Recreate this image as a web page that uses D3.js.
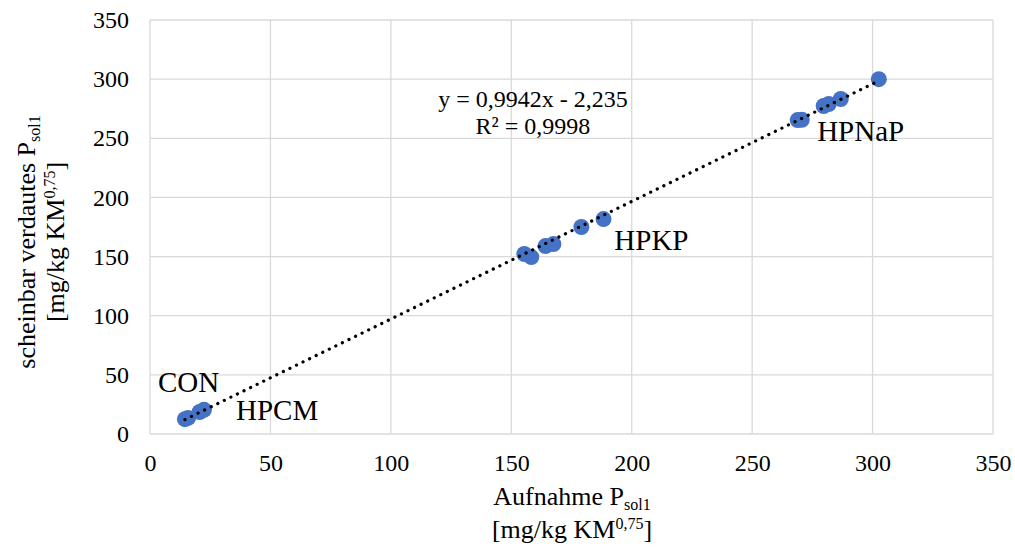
<!DOCTYPE html>
<html>
<head>
<meta charset="utf-8">
<script src="https://cdn.jsdelivr.net/npm/d3@7"></script>
<style>
  body { margin: 0; background: #fff; }
  text { font-family: "Liberation Serif", "Times New Roman", serif; fill: #000; }
</style>
</head>
<body>
<div id="chart"></div>
<script>
// data
const groups = ['CON', 'HPCM', 'HPKP', 'HPNaP'];
const intakeX = [14.5, 15.8, 20.6, 22.4, 155.4, 158.3, 164.2, 167.5, 179.1, 188.3, 268.9, 270.6, 279.7, 281.8, 286.8, 302.6];
const digestedY = [12.5, 13.6, 18.6, 20.4, 152.2, 149.6, 158.9, 160.6, 175.0, 181.7, 265.4, 265.6, 277.3, 279.0, 283.2, 300.0];
const groupOf = ['CON', 'CON', 'HPCM', 'HPCM', 'HPKP', 'HPKP', 'HPKP', 'HPKP', 'HPKP', 'HPKP', 'HPNaP', 'HPNaP', 'HPNaP', 'HPNaP', 'HPNaP', 'HPNaP'];
const tickValues = [0, 50, 100, 150, 200, 250, 300, 350];
const slope = 0.9942, intercept = -2.235;
// label anchor points in data units
const labelX = [3.3, 35.7, 192.8, 277];
const labelY = [35.5, 11.8, 155.5, 247.6];

const width = 1015, height = 547;
const margin = { top: 20, right: 22, bottom: 113, left: 150 };
const w = width - margin.left - margin.right;
const h = height - margin.top - margin.bottom;

const svg = d3.select('#chart').append('svg')
    .attr('width', width)
    .attr('height', height);
const g = svg.append('g')
    .attr('transform', 'translate(' + margin.left + ',' + margin.top + ')');

const x = d3.scaleLinear().domain([0, 350]).range([0, w]);
const y = d3.scaleLinear().domain([0, 350]).range([h, 0]);

// gridlines
g.append('g').selectAll('line.v')
    .data(tickValues)
    .enter().append('line')
    .attr('x1', d => x(d)).attr('x2', d => x(d))
    .attr('y1', 0).attr('y2', h)
    .attr('stroke', '#d9d9d9').attr('stroke-width', 1.3);
g.append('g').selectAll('line.h')
    .data(tickValues)
    .enter().append('line')
    .attr('x1', 0).attr('x2', w)
    .attr('y1', d => y(d)).attr('y2', d => y(d))
    .attr('stroke', '#d9d9d9').attr('stroke-width', 1.3);

// axes (labels only)
const xAxis = g.append('g')
    .attr('transform', 'translate(0,' + h + ')')
    .call(d3.axisBottom(x).tickValues(tickValues).tickSize(0).tickPadding(20));
const yAxis = g.append('g')
    .call(d3.axisLeft(y).tickValues(tickValues).tickSize(0).tickPadding(21));
[xAxis, yAxis].forEach(a => {
    a.select('.domain').remove();
    a.selectAll('text')
        .style('font-family', '"Liberation Serif", serif')
        .style('font-size', '24px')
        .attr('fill', '#000');
});

// points
const pts = intakeX.map((v, i) => ({ x: v, y: digestedY[i], g: groupOf[i] }));
g.selectAll('.dot')
    .data(pts)
    .enter().append('circle')
    .attr('class', 'dot')
    .attr('cx', d => x(d.x))
    .attr('cy', d => y(d.y))
    .attr('r', 8)
    .attr('fill', '#4472C4');

// linear trendline, dotted
const xMin = d3.min(intakeX), xMax = d3.max(intakeX);
g.append('line')
    .attr('x1', x(xMin)).attr('y1', y(slope * xMin + intercept))
    .attr('x2', x(xMax)).attr('y2', y(slope * xMax + intercept))
    .attr('stroke', '#000')
    .attr('stroke-width', 3.2)
    .attr('stroke-linecap', 'round')
    .attr('stroke-dasharray', '0.1 7.2');

// equation
const eq = g.append('text')
    .attr('x', x(159))
    .attr('y', y(276.4))
    .attr('text-anchor', 'middle')
    .style('font-size', '24px');
eq.append('tspan').text('y = 0,9942x - 2,235');
eq.append('tspan').attr('x', x(159)).attr('dy', 27).text('R² = 0,9998');

// group labels
g.selectAll('.lbl')
    .data(groups)
    .enter().append('text')
    .attr('class', 'lbl')
    .attr('x', (d, i) => x(labelX[i]))
    .attr('y', (d, i) => y(labelY[i]))
    .style('font-size', '29px')
    .text(d => d);

// axis titles
const xc = 572;
const xt = svg.append('text')
    .attr('x', xc)
    .attr('y', 505)
    .attr('text-anchor', 'middle')
    .style('font-size', '26px');
xt.append('tspan').text('Aufnahme P');
xt.append('tspan').attr('dy', 5).style('font-size', '16px').text('sol1');
const xt2 = svg.append('text')
    .attr('x', xc)
    .attr('y', 538)
    .attr('text-anchor', 'middle')
    .style('font-size', '26px');
xt2.append('tspan').text('[mg/kg KM');
xt2.append('tspan').attr('dy', -9).style('font-size', '16px').text('0,75');
xt2.append('tspan').attr('dy', 9).text(']');

const cy = 242;
const yt = svg.append('text')
    .attr('transform', 'translate(35,' + cy + ') rotate(-90)')
    .attr('text-anchor', 'middle')
    .style('font-size', '26px');
yt.append('tspan').text('scheinbar verdautes P');
yt.append('tspan').attr('dy', 5).style('font-size', '16px').text('sol1');
const yt2 = svg.append('text')
    .attr('transform', 'translate(64,' + cy + ') rotate(-90)')
    .attr('text-anchor', 'middle')
    .style('font-size', '26px');
yt2.append('tspan').text('[mg/kg KM');
yt2.append('tspan').attr('dy', -9).style('font-size', '16px').text('0,75');
yt2.append('tspan').attr('dy', 9).text(']');
</script>
</body>
</html>
